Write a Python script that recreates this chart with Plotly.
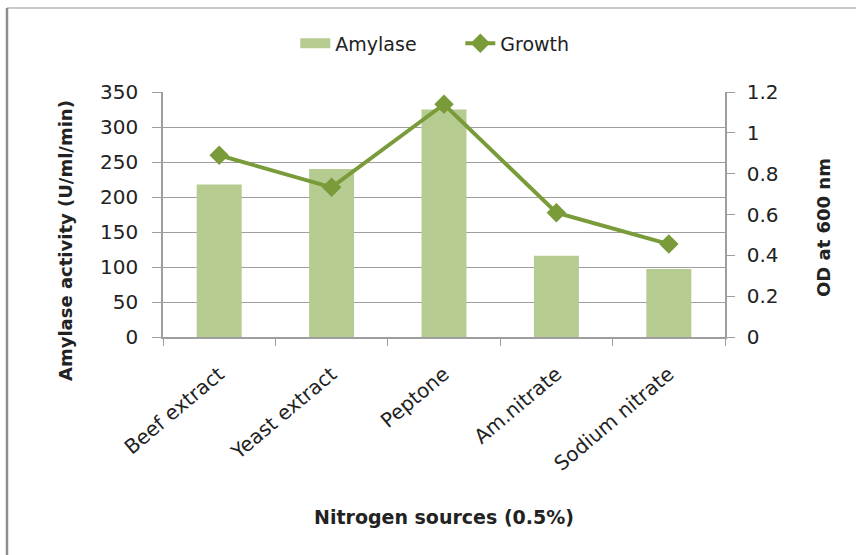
import plotly.graph_objects as go

# Nitrogen sources tested at 0.5 %
sources = ["Beef extract", "Yeast extract", "Peptone", "Am.nitrate", "Sodium nitrate"]
amylase = [218, 240, 325, 116, 97]          # U/ml/min
growth = [0.89, 0.733, 1.14, 0.609, 0.455]  # OD at 600 nm

left_ticks = [0, 50, 100, 150, 200, 250, 300, 350]
right_ticks = [0, 0.2, 0.4, 0.6, 0.8, 1, 1.2]

BAR_GREEN = "#B6CB8F"
LINE_GREEN = "#7A9B3A"
GRID = "#9E9E9E"
FONT = "DejaVu Sans"

# plot-area geometry in pixels, used to place the frame and axis titles
L, R, T, B = 163, 725, 92, 337
W, H = R - L, B - T


def px(x):
    return (x - L) / W


def py(y):
    return (B - y) / H


fig = go.Figure()
fig.add_trace(go.Bar(
    x=sources, y=amylase, name="Amylase",
    marker=dict(color=BAR_GREEN, line=dict(width=0)),
    yaxis="y", showlegend=False,
))
# wide flat swatch for the bar series in the legend
fig.add_trace(go.Scatter(
    x=[None], y=[None], name="Amylase", mode="lines",
    line=dict(color=BAR_GREEN, width=12), yaxis="y",
))
fig.add_trace(go.Scatter(
    x=sources, y=growth, name="Growth", mode="lines+markers",
    line=dict(color=LINE_GREEN, width=4),
    marker=dict(symbol="diamond", size=15, color=LINE_GREEN),
    yaxis="y2",
))

fig.update_layout(
    width=856, height=555,
    margin=dict(l=L, r=856 - R, t=T, b=555 - B),
    paper_bgcolor="white", plot_bgcolor="white",
    font=dict(family=FONT, size=18, color="#222222"),
    bargap=0.6,
    showlegend=True,
    legend=dict(
        orientation="h", xref="container", yref="container",
        x=0.345, y=0.922, xanchor="left", yanchor="middle",
        font=dict(size=19), traceorder="normal", entrywidth=120,
    ),
    xaxis=dict(
        type="category", tickson="boundaries", ticks="outside", ticklen=7,
        tickcolor=GRID, showline=True, linecolor=GRID, linewidth=1.5,
        showgrid=False, tickangle=-40, tickfont=dict(size=20),
        ticklabelstandoff=16,
        title=dict(text="Nitrogen sources (0.5%)", standoff=36,
                   font=dict(size=19, weight="bold")),
    ),
    yaxis=dict(
        range=[0, 350], tickvals=left_ticks, ticks="outside", ticklen=9,
        tickcolor=GRID, showline=True, linecolor=GRID, linewidth=1.5,
        showgrid=True, gridcolor=GRID, gridwidth=1.2, zeroline=False,
        tickfont=dict(size=20), ticklabelstandoff=10,
    ),
    yaxis2=dict(
        range=[0, 1.2], tickvals=right_ticks, overlaying="y", side="right",
        ticks="outside", ticklen=8, tickcolor=GRID, showline=True,
        linecolor=GRID, linewidth=1.5, showgrid=False, zeroline=False,
        tickfont=dict(size=20), ticklabelstandoff=8,
    ),
    annotations=[
        dict(text="<b>Amylase activity (U/ml/min)</b>", xref="paper",
             yref="paper", x=px(65), y=py(241), textangle=-90,
             showarrow=False, font=dict(size=18),
             xanchor="center", yanchor="middle"),
        dict(text="<b>OD at 600 nm</b>", xref="paper", yref="paper",
             x=px(823), y=py(228), textangle=-90, showarrow=False,
             font=dict(size=18), xanchor="center", yanchor="middle"),
    ],
    shapes=[
        # outer chart frame (top and left edges)
        dict(type="line", xref="paper", yref="paper",
             x0=px(7), x1=px(856), y0=py(8), y1=py(8),
             line=dict(color="#B8B8B8", width=1.5)),
        dict(type="line", xref="paper", yref="paper",
             x0=px(7), x1=px(7), y0=py(8), y1=py(560),
             line=dict(color="#8C8C8C", width=2.5)),
    ],
)

fig.write_html("out.html")
